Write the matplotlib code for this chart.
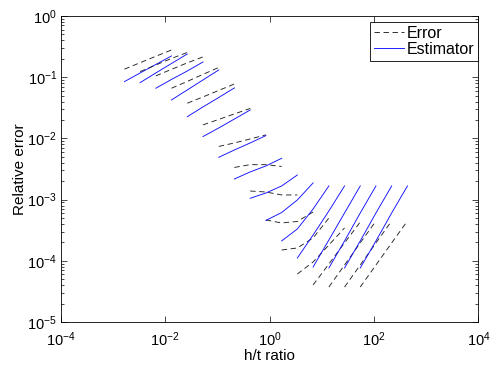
import matplotlib
matplotlib.use("Agg")
import matplotlib.pyplot as plt
from matplotlib.ticker import LogLocator, NullLocator

# h/t ratio for each run (4 meshes per thickness)
ratios = [
    [0.00167, 0.00333, 0.00667, 0.0133],
    [0.00333, 0.00667, 0.0133, 0.0267],
    [0.00667, 0.0133, 0.0267, 0.0533],
    [0.0133, 0.0267, 0.0533, 0.107],
    [0.0267, 0.0533, 0.107, 0.213],
    [0.0533, 0.107, 0.213, 0.427],
    [0.107, 0.213, 0.427, 0.853],
    [0.213, 0.427, 0.853, 1.71],
    [0.427, 0.853, 1.71, 3.41],
    [0.853, 1.71, 3.41, 6.83],
    [1.71, 3.41, 6.83, 13.7],
    [3.41, 6.83, 13.7, 27.3],
    [6.83, 13.7, 27.3, 54.6],
    [13.7, 27.3, 54.6, 109],
    [27.3, 54.6, 109, 218],
    [54.6, 109, 218, 437],
]

error = [
    [0.135, 0.172, 0.219, 0.278],
    [0.123, 0.158, 0.202, 0.253],
    [0.105, 0.134, 0.171, 0.214],
    [0.0659, 0.0851, 0.111, 0.144],
    [0.0375, 0.0475, 0.0607, 0.0774],
    [0.0166, 0.0204, 0.0251, 0.0308],
    [0.00738, 0.00841, 0.00977, 0.0114],
    [0.00335, 0.00372, 0.00372, 0.00348],
    [0.00138, 0.00133, 0.00119, 0.00119],
    [0.000464, 0.000415, 0.000439, 0.000627],
    [0.000150, 0.000162, 0.000236, 0.000500],
    [0.0000608, 0.0000955, 0.000181, 0.000344],
    [0.0000403, 0.0000887, 0.000196, 0.000431],
    [0.0000373, 0.0000854, 0.000196, 0.000447],
    [0.0000373, 0.0000854, 0.000196, 0.000447],
    [0.0000373, 0.0000854, 0.000196, 0.000447],
]

estimator = [
    [0.0844, 0.117, 0.161, 0.222],
    [0.0813, 0.117, 0.167, 0.239],
    [0.0659, 0.0917, 0.126, 0.177],
    [0.0424, 0.0618, 0.0900, 0.131],
    [0.0226, 0.0326, 0.0466, 0.0667],
    [0.0107, 0.0148, 0.0207, 0.0291],
    [0.00491, 0.00646, 0.00841, 0.0111],
    [0.00217, 0.00283, 0.00354, 0.00473],
    [0.00105, 0.00128, 0.00167, 0.00252],
    [0.000456, 0.000615, 0.000985, 0.00187],
    [0.000211, 0.000331, 0.000702, 0.00167],
    [0.000111, 0.000264, 0.000651, 0.00167],
    [0.0000792, 0.000219, 0.000604, 0.00167],
    [0.0000763, 0.000211, 0.000604, 0.00167],
    [0.0000763, 0.000211, 0.000604, 0.00167],
    [0.0000763, 0.000211, 0.000604, 0.00167],
]

plt.rcParams['font.family'] = ['Liberation Sans', 'DejaVu Sans']
plt.rcParams['mathtext.fontset'] = 'custom'
plt.rcParams['mathtext.rm'] = 'Liberation Sans'
plt.rcParams['mathtext.it'] = 'Liberation Sans'

fig = plt.figure(figsize=(4.9, 3.67), dpi=100)
ax = fig.add_axes([0.1235, 0.1226, 0.853, 0.834])

for i in range(len(ratios)):
    ax.plot(ratios[i], error[i], color='#222222', lw=0.65, linestyle=(0, (6, 4)),
            label='Error' if i == 0 else None)
    ax.plot(ratios[i], estimator[i], color='#1010ff', lw=0.65,
            label='Estimator' if i == 0 else None)

ax.set_xscale('log')
ax.set_yscale('log')
ax.set_xlim(1e-4, 1e4)
ax.set_ylim(1e-5, 1e0)
ax.set_xticks([1e-4, 1e-2, 1e0, 1e2, 1e4])
ax.xaxis.set_minor_locator(NullLocator())
ax.yaxis.set_major_locator(LogLocator(base=10, numticks=10))
ax.yaxis.set_minor_locator(LogLocator(base=10, subs=range(2, 10), numticks=10))
ax.tick_params(which='both', direction='in', top=True, right=True, labelsize=10.5)
ax.tick_params(which='major', length=4, width=0.5)
ax.tick_params(which='minor', length=2, width=0.5)
ax.tick_params(axis='x', pad=6)
ax.tick_params(axis='y', pad=2.5)
for s in ax.spines.values():
    s.set_linewidth(0.6)

ax.set_xlabel('h/t ratio', fontsize=11, labelpad=0)
ax.set_ylabel('Relative error', fontsize=11, labelpad=0)

leg = ax.legend(loc='upper right', bbox_to_anchor=(1.0, 0.981), fontsize=11.5,
                fancybox=False, framealpha=1, edgecolor='black', borderaxespad=0,
                handlelength=1.9, handletextpad=0.15, borderpad=0.25,
                labelspacing=0.05)
leg.get_frame().set_linewidth(0.6)

plt.savefig('out.png', dpi=100)
